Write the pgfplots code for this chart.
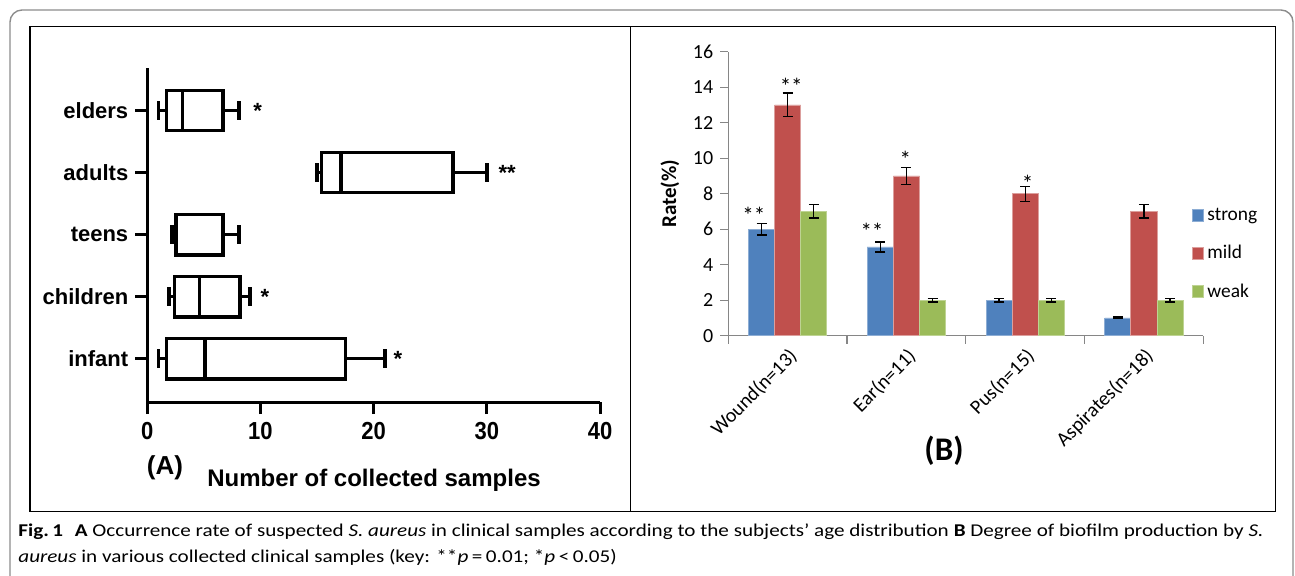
\documentclass[border=0pt]{standalone}
\usepackage{fontspec}
\setmainfont{Carlito}
\newfontfamily\arialf{Liberation Sans}
\usepackage{pgfplots}
\pgfplotsset{compat=1.18}
\usepgfplotslibrary{statistics}
\definecolor{cstrong}{HTML}{4F81BD}
\definecolor{cmild}{HTML}{C0504D}
\definecolor{cweak}{HTML}{9BBB59}
\definecolor{axgray}{HTML}{868686}
\definecolor{framegray}{HTML}{8C8C8C}
\definecolor{captext}{HTML}{231F20}
\newsavebox\capboxA
\newsavebox\capboxB
\begin{document}
\sbox\capboxA{\fontsize{9}{11}\selectfont\textbf{Fig.\,1}\hspace{0.55em}\textbf{A} Occurrence rate of suspected \textit{S. aureus} in clinical samples according to the subjects’ age distribution \textbf{B} Degree of biofilm production by \textit{S.}}%
\sbox\capboxB{\fontsize{9}{11}\selectfont\textit{aureus} in various collected clinical samples (key: **\textit{p}\,=\,0.01; *\textit{p}\,<\,0.05)}%
\pgfmathsetmacro\capfac{622.5/(\wd\capboxA/1pt)}%
\begin{tikzpicture}
\useasboundingbox (0,0) rectangle (647.5pt,-287.5pt);
\draw[framegray, line width=0.7pt, rounded corners=6pt] (5pt,-290pt) -- (5pt,-5pt) -- (646.5pt,-5pt) -- (646.5pt,-290pt);
\draw[black, line width=0.65pt] (15pt,-13.25pt) rectangle (637.85pt,-255.85pt);
\draw[black, line width=0.65pt] (315.25pt,-13.25pt) -- (315.25pt,-255.85pt);

% ---------------- Panel A ----------------
\begin{axis}[
  at={(73.65pt,-201pt)}, anchor=south west,
  scale only axis, width=226.35pt, height=167pt,
  xmin=0, xmax=40, ymin=0.3, ymax=5.685,
  axis lines=left, axis line style={line width=1.5pt, -},
  xtick={0,10,20,30,40}, xticklabels={0,10,20,30,40},
  ytick={1,2,3,4,5},
  yticklabels={infant,children,teens,adults,elders},
  tick align=outside, tick pos=left,
  major tick length=6pt,
  tick style={line width=1.5pt, black},
  ticklabel style={font=\arialf\bfseries\fontsize{11}{13}\selectfont},
  xticklabel style={yscale=1.12},
  boxplot/draw direction=x,
  boxplot/box extend=0.65,
  boxplot/whisker extend=0.3,
  clip=false,
]
\addplot[black, line width=1.8pt, boxplot prepared={lower whisker=1.0, lower quartile=1.7, median=3.1, upper quartile=6.7, upper whisker=8.1, draw position=5}] coordinates {};
\addplot[black, line width=1.8pt, boxplot prepared={lower whisker=15.0, lower quartile=15.4, median=17.1, upper quartile=27.0, upper whisker=30.0, draw position=4}] coordinates {};
\addplot[black, line width=1.8pt, boxplot prepared={lower whisker=2.2, lower quartile=2.5, median=2.55, upper quartile=6.7, upper whisker=8.1, draw position=3}] coordinates {};
\addplot[black, line width=1.8pt, boxplot prepared={lower whisker=1.9, lower quartile=2.4, median=4.6, upper quartile=8.2, upper whisker=9.1, draw position=2}] coordinates {};
\addplot[black, line width=1.8pt, boxplot prepared={lower whisker=1.0, lower quartile=1.7, median=5.1, upper quartile=17.5, upper whisker=21.0, draw position=1}] coordinates {};
\node[font=\arialf\bfseries\fontsize{11}{13}\selectfont] at (axis cs:9.74,5) {*};
\node[font=\arialf\bfseries\fontsize{11}{13}\selectfont] at (axis cs:31.8,4) {**};
\node[font=\arialf\bfseries\fontsize{11}{13}\selectfont] at (axis cs:10.4,2) {*};
\node[font=\arialf\bfseries\fontsize{11}{13}\selectfont] at (axis cs:22.15,1) {*};
\end{axis}
\node[font=\arialf\bfseries\fontsize{13}{15}\selectfont] at (82.5pt,-233.75pt) {(A)};
\node[font=\arialf\bfseries\fontsize{12}{14}\selectfont] at (187pt,-240pt) {Number of collected samples};

% ---------------- Panel B ----------------
\begin{axis}[
  at={(364.15pt,-167.85pt)}, anchor=south west,
  scale only axis, width=237.5pt, height=142pt,
  xmin=0.5, xmax=4.5, ymin=0, ymax=16,
  axis lines=left, axis line style={axgray, line width=0.6pt, -},
  ybar=0pt, bar width=0.22,
  ytick={0,2,4,6,8,10,12,14,16}, yticklabels={0,2,4,6,8,10,12,14,16},
  xtick={1,2,3,4},
  xticklabels={Wound(n=13),Ear(n=11),Pus(n=15),Aspirates(n=18)},
  minor xtick={0.5,1.5,2.5,3.5,4.5},
  tick align=outside, tick pos=left,
  major tick length=4pt, minor tick length=4pt,
  tick style={axgray, line width=0.6pt},
  major x tick style={draw=none},
  ticklabel style={font=\fontsize{10}{12}\selectfont},
  xticklabel style={rotate=45, anchor=north east, inner sep=1pt},
  ylabel={Rate(\%)},
  ylabel style={font=\bfseries\fontsize{10.5}{12}\selectfont},
  legend style={at={(0.9745,0.288)}, anchor=west, draw=none, fill=none,
    font=\fontsize{9.7}{11}\selectfont, row sep=7pt, inner sep=0pt},
  legend cell align=left,
  legend image code/.code={\fill[#1] (0pt,-3pt) rectangle (5.5pt,3pt);},
  clip=false,
]
\addplot[fill=cstrong, draw=cstrong!65!white, line width=0.4pt, error bars/.cd, y dir=both, y explicit,
  error bar style={draw=black, line width=0.6pt},
  error mark options={rotate=90, draw=black, mark size=2.5pt, line width=0.6pt}]
  coordinates {(1,6) +- (0,0.33) (2,5) +- (0,0.28) (3,2) +- (0,0.1) (4,1) +- (0,0.05)};
\addplot[fill=cmild, draw=cmild!55!white, line width=0.4pt, error bars/.cd, y dir=both, y explicit,
  error bar style={draw=black, line width=0.6pt},
  error mark options={rotate=90, draw=black, mark size=2.5pt, line width=0.6pt}]
  coordinates {(1,13) +- (0,0.67) (2,9) +- (0,0.47) (3,8) +- (0,0.42) (4,7) +- (0,0.37)};
\addplot[fill=cweak, draw=cweak!65!white, line width=0.4pt, error bars/.cd, y dir=both, y explicit,
  error bar style={draw=black, line width=0.6pt},
  error mark options={rotate=90, draw=black, mark size=2.5pt, line width=0.6pt}]
  coordinates {(1,7) +- (0,0.37) (2,2) +- (0,0.1) (3,2) +- (0,0.1) (4,2) +- (0,0.1)};
\legend{strong,mild,weak}
\node[font=\fontsize{11.5}{13}\selectfont] at (axis cs:0.715,6.8) {**};
\node[font=\fontsize{11.5}{13}\selectfont] at (axis cs:1.03,14.07) {**};
\node[font=\fontsize{11.5}{13}\selectfont] at (axis cs:1.71,5.88) {**};
\node[font=\fontsize{11.5}{13}\selectfont] at (axis cs:1.99,9.95) {*};
\node[font=\fontsize{11.5}{13}\selectfont] at (axis cs:3.02,8.57) {*};
\end{axis}
\node[font=\bfseries\fontsize{16.5}{18}\selectfont] at (472pt,-225.5pt) {(B)};

% ---------------- Caption ----------------
\node[anchor=base west, inner sep=0pt, text=captext] at (9pt,-268pt) {\scalebox{\capfac}[1]{\usebox\capboxA}};
\node[anchor=base west, inner sep=0pt, text=captext] at (9pt,-281pt) {\scalebox{\capfac}[1]{\usebox\capboxB}};
\end{tikzpicture}
\end{document}
